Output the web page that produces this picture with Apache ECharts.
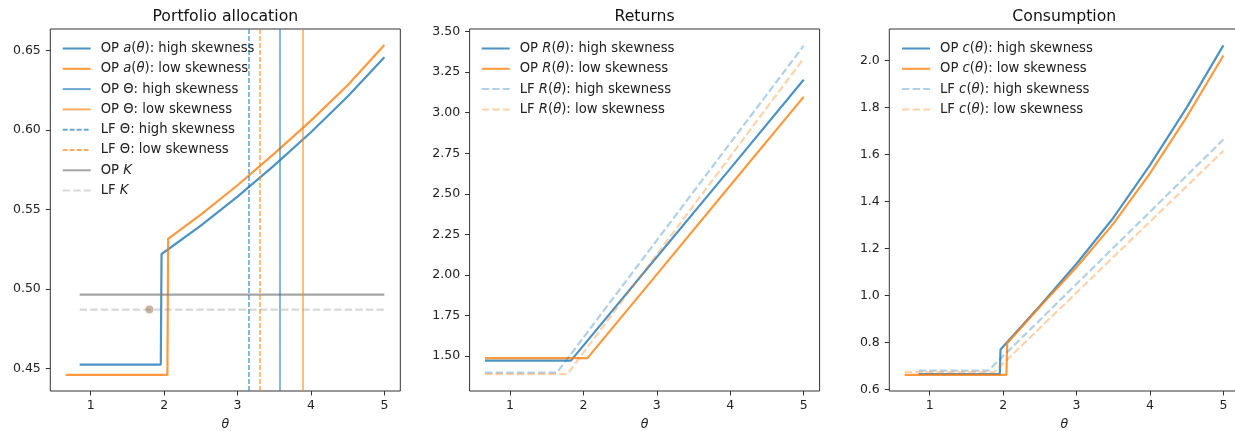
<!DOCTYPE html>
<html>
<head>
<meta charset="utf-8">
<script src="https://cdn.jsdelivr.net/npm/echarts@6/dist/echarts.min.js"></script>
<style>
  html, body { margin: 0; padding: 0; background: #fff; }
  #chart { width: 1235px; height: 431px; }
</style>
</head>
<body>
<div id="chart"></div>
<script>
// ---- data ----
// panel 1: portfolio allocation
const aHighX = [0.85, 1.955, 1.965, 2.0, 2.5, 3.0, 3.5, 4.0, 4.5, 5.0];
const aHighY = [0.4525, 0.4525, 0.522, 0.5231, 0.5398, 0.5581, 0.5777, 0.5985, 0.621, 0.6456];
const aLowX = [0.66, 2.045, 2.055, 2.5, 3.0, 3.5, 4.0, 4.5, 5.0];
const aLowY = [0.446, 0.446, 0.5315, 0.5468, 0.5652, 0.5851, 0.6058, 0.628, 0.6533];
const opThetaHigh = 3.58;
const opThetaLow = 3.89;
const lfThetaHigh = 3.145;
const lfThetaLow = 3.298;
const kX = [0.85, 5.0];
const opK = [0.4965, 0.4965];
const lfK = [0.4871, 0.4871];
const kDot = [1.8, 0.4871];

// panel 2: returns
const rOpHighX = [0.66, 1.83, 3.0, 4.0, 5.0];
const rOpHighY = [1.471, 1.471, 2.11, 2.655, 3.203];
const rOpLowX = [0.66, 2.055, 3.0, 4.0, 5.0];
const rOpLowY = [1.486, 1.486, 2.003, 2.551, 3.098];
const rLfHighX = [0.66, 1.64, 3.0, 4.0, 5.0];
const rLfHighY = [1.397, 1.397, 2.213, 2.813, 3.413];
const rLfLowX = [0.66, 1.78, 3.0, 4.0, 5.0];
const rLfLowY = [1.387, 1.387, 2.125, 2.73, 3.335];

// panel 3: consumption
const cOpHighX = [0.85, 1.955, 1.965, 2.5, 3.0, 3.5, 4.0, 4.5, 5.0];
const cOpHighY = [0.665, 0.665, 0.77, 0.955, 1.135, 1.33, 1.555, 1.8, 2.065];
const cOpLowX = [0.66, 2.045, 2.055, 2.5, 3.0, 3.5, 4.0, 4.5, 5.0];
const cOpLowY = [0.662, 0.662, 0.796, 0.952, 1.12, 1.305, 1.52, 1.76, 2.022];
const cLfHighX = [0.85, 1.8, 3.0, 4.0, 5.0];
const cLfHighY = [0.68, 0.68, 1.049, 1.356, 1.664];
const cLfLowX = [0.66, 1.88, 3.0, 4.0, 5.0];
const cLfLowY = [0.674, 0.674, 1.012, 1.314, 1.616];

// ticks
const xTicks = [1, 2, 3, 4, 5];
const yTicksA = [0.45, 0.50, 0.55, 0.60, 0.65];
const yTicksR = [1.50, 1.75, 2.00, 2.25, 2.50, 2.75, 3.00, 3.25, 3.50];
const yTicksC = [0.6, 0.8, 1.0, 1.2, 1.4, 1.6, 1.8, 2.0];
const titles = ['Portfolio allocation', 'Returns', 'Consumption'];

// ---- layout / style ----
const FONT = 'DejaVu Sans';
const BLUE = '#1f77b4';
const ORANGE = '#ff7f0e';
const GREY = '#7f7f7f';
const INK = '#222';
const gridLeft = [50.3, 469.6, 889.3];
const gridW = 350;
const yRange = [[0.4359, 0.6634], [1.2835, 3.5165], [0.593, 2.135]];
const yTicks = [yTicksA, yTicksR, yTicksC];
const yDigits = [2, 2, 1];
const legendLeft = [61.7, 480.7, 901];

function pts(xs, ys) {
  return xs.map((x, i) => [x, ys[i]]);
}

function curve(name, idx, xs, ys, color, opacity, width, dash) {
  return {
    name: name,
    type: 'line',
    xAxisIndex: idx,
    yAxisIndex: idx,
    data: pts(xs, ys),
    symbol: 'none',
    showSymbol: false,
    // symbol colour is only used by the legend icon dot, hide it
    itemStyle: { color: color, opacity: 0 },
    lineStyle: { color: color, opacity: opacity, width: width, type: dash || 'solid' },
    silent: true,
    animation: false
  };
}

function vline(name, value, color, opacity, width, dash) {
  const ls = { color: color, opacity: opacity, width: width, type: dash || 'solid' };
  return {
    name: name,
    type: 'line',
    xAxisIndex: 0,
    yAxisIndex: 0,
    data: [],
    symbol: 'none',
    itemStyle: { color: color, opacity: 0 },
    lineStyle: ls,
    markLine: {
      silent: true,
      symbol: ['none', 'none'],
      label: { show: false },
      lineStyle: ls,
      emphasis: { disabled: true },
      animation: false,
      data: [{ xAxis: value }]
    },
    animation: false
  };
}

function mathName(name) {
  return name
    .replace(/^(OP|LF) (\w)\(θ\)/, '$1 {i|$2}({i|θ})')
    .replace(/ K$/, ' {i|K}');
}

const longDash = [7.4, 3.2];
const shortDash = [4.9, 2.1];

const series = [
  curve('OP a(θ): high skewness', 0, aHighX, aHighY, BLUE, 0.8, 2.2),
  curve('OP a(θ): low skewness', 0, aLowX, aLowY, ORANGE, 0.8, 2.2),
  vline('OP Θ: high skewness', opThetaHigh, BLUE, 0.65, 1.6),
  vline('OP Θ: low skewness', opThetaLow, ORANGE, 0.65, 1.6),
  vline('LF Θ: high skewness', lfThetaHigh, BLUE, 0.65, 1.6, shortDash),
  vline('LF Θ: low skewness', lfThetaLow, ORANGE, 0.65, 1.6, shortDash),
  curve('OP K', 0, kX, opK, GREY, 0.7, 2.2),
  curve('LF K', 0, kX, lfK, GREY, 0.3, 2.2, longDash),
  {
    type: 'scatter',
    xAxisIndex: 0,
    yAxisIndex: 0,
    data: [kDot],
    symbolSize: 8,
    itemStyle: { color: '#c4ad99', opacity: 0.9 },
    silent: true,
    animation: false
  },
  curve('OP R(θ): high skewness', 1, rOpHighX, rOpHighY, BLUE, 0.8, 2.2),
  curve('OP R(θ): low skewness', 1, rOpLowX, rOpLowY, ORANGE, 0.8, 2.2),
  curve('LF R(θ): high skewness', 1, rLfHighX, rLfHighY, BLUE, 0.35, 2.2, longDash),
  curve('LF R(θ): low skewness', 1, rLfLowX, rLfLowY, ORANGE, 0.35, 2.2, longDash),
  curve('OP c(θ): high skewness', 2, cOpHighX, cOpHighY, BLUE, 0.8, 2.2),
  curve('OP c(θ): low skewness', 2, cOpLowX, cOpLowY, ORANGE, 0.8, 2.2),
  curve('LF c(θ): high skewness', 2, cLfHighX, cLfHighY, BLUE, 0.35, 2.2, longDash),
  curve('LF c(θ): low skewness', 2, cLfLowX, cLfLowY, ORANGE, 0.35, 2.2, longDash)
];

const legendNames = [
  ['OP a(θ): high skewness', 'OP a(θ): low skewness', 'OP Θ: high skewness', 'OP Θ: low skewness',
   'LF Θ: high skewness', 'LF Θ: low skewness', 'OP K', 'LF K'],
  ['OP R(θ): high skewness', 'OP R(θ): low skewness', 'LF R(θ): high skewness', 'LF R(θ): low skewness'],
  ['OP c(θ): high skewness', 'OP c(θ): low skewness', 'LF c(θ): high skewness', 'LF c(θ): low skewness']
];

const option = {
  backgroundColor: '#fff',
  animation: false,
  title: titles.map((t, i) => ({
    text: t,
    left: gridLeft[i] + gridW / 2,
    top: 9,
    padding: 0,
    textAlign: 'center',
    textStyle: { fontFamily: FONT, fontSize: 15.7, fontWeight: 'normal', color: '#111' }
  })),
  legend: legendNames.map((names, i) => ({
    data: names,
    orient: 'vertical',
    left: legendLeft[i],
    top: 42,
    padding: 0,
    itemWidth: 28,
    itemHeight: 14,
    itemGap: 7.3,
    selectedMode: false,
    formatter: mathName,
    itemStyle: { opacity: 0 },
    textStyle: {
      fontFamily: FONT,
      fontSize: 13.2,
      color: INK,
      padding: [0, 0, 0, 5],
      rich: { i: { fontFamily: FONT, fontSize: 13.2, fontStyle: 'italic', color: INK } }
    }
  })),
  grid: gridLeft.map(l => ({
    left: l,
    top: 29,
    width: gridW,
    height: 362,
    outerBoundsMode: 'none',
    containLabel: false,
    show: true,
    borderColor: '#333',
    borderWidth: 1,
    backgroundColor: 'transparent'
  })),
  xAxis: gridLeft.map((l, i) => ({
    type: 'value',
    gridIndex: i,
    min: 0.45,
    max: 5.217,
    axisLine: { show: false },
    splitLine: { show: false },
    axisTick: { show: true, length: 4.5, customValues: xTicks, lineStyle: { color: '#333', width: 1 } },
    axisLabel: {
      customValues: xTicks,
      formatter: v => String(v),
      fontFamily: FONT, fontSize: 12.5, color: INK, margin: 8
    },
    name: 'θ',
    nameLocation: 'middle',
    nameGap: 27,
    nameTextStyle: { fontFamily: FONT, fontSize: 12.5, fontStyle: 'italic', color: INK }
  })),
  yAxis: gridLeft.map((l, i) => ({
    type: 'value',
    gridIndex: i,
    min: yRange[i][0],
    max: yRange[i][1],
    axisLine: { show: false },
    splitLine: { show: false },
    axisTick: { show: true, length: 4.5, customValues: yTicks[i], lineStyle: { color: '#333', width: 1 } },
    axisLabel: {
      customValues: yTicks[i],
      formatter: v => v.toFixed(yDigits[i]),
      fontFamily: FONT, fontSize: 12.5, color: INK, margin: 9.5
    }
  })),
  series: series
};

const chart = echarts.init(document.getElementById('chart'), null, { renderer: 'canvas' });
chart.setOption(option);
</script>
</body>
</html>
